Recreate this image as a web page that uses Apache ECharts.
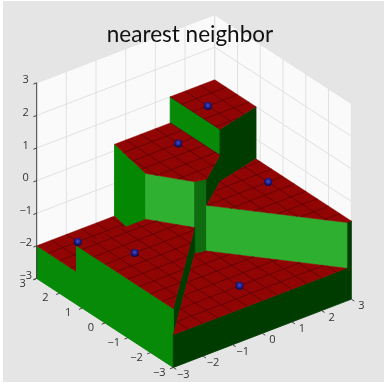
<!DOCTYPE html>
<html>
<head>
<meta charset="utf-8">
<style>
html,body{margin:0;padding:0;background:#fff;}
#main{width:384px;height:383px;}
</style>
<script src="https://cdn.jsdelivr.net/npm/echarts@6/dist/echarts.min.js"></script>
</head>
<body>
<div id="main"></div>
<script>
// sample points and their values
var siteX=[-2,-2,1,2,2.5,0];
var siteY=[2.5,0,2,2,0,-2];
var siteZ=[-2,-1.2,0.2,1,-0.6,-2];
var xTicks=[-3,-2,-1,0,1,2,3];
var yTicks=[-3,-2,-1,0,1,2,3];
var zTicks=[-3,-2,-1,0,1,2,3];
var tickText=['\u22123','\u22122','\u22121','0','1','2','3'];
var meshLines=[-2.5,-2,-1.5,-1,-0.5,0,0.5,1,1.5,2,2.5];
var lo=-3,hi=3;

// matlab default view
var az=-37.5*Math.PI/180,el=30*Math.PI/180;
var scale=37.4,zScale=32.6,cx=194,cy=191;
var viewDir=[Math.sin(az),-Math.cos(az)];   //horizontal direction towards viewer

function project(x,y,z) {
    return [cx+scale*(x*Math.cos(az)+y*Math.sin(az)),
        cy-zScale*z-scale*Math.sin(el)*(-x*Math.sin(az)+y*Math.cos(az))];
}

// voronoi cell of site i: clip the square by each bisector
function cellOf(i) {
    var poly=[[lo,lo],[hi,lo],[hi,hi],[lo,hi]];
    for (var j=0;j<siteX.length;j++){
        if (j==i) continue;
        var nx=siteX[j]-siteX[i],ny=siteY[j]-siteY[i];
        var mx=(siteX[j]+siteX[i])/2,my=(siteY[j]+siteY[i])/2;
        var out=[];
        for (var k=0;k<poly.length;k++){
            var p=poly[k],q=poly[(k+1)%poly.length];
            var dp=(p[0]-mx)*nx+(p[1]-my)*ny,dq=(q[0]-mx)*nx+(q[1]-my)*ny;
            if (dp<=0) out.push(p);
            if ((dp<0&&dq>0)||(dp>0&&dq<0)){
                var t=dp/(dp-dq);
                out.push([p[0]+t*(q[0]-p[0]),p[1]+t*(q[1]-p[1])]);
            }
        }
        poly=out;
    }
    return poly;
}

// part of the line through a with direction d inside a convex ccw polygon
function clipLine(poly,a,d) {
    var t0=-100,t1=100;
    for (var k=0;k<poly.length;k++){
        var p=poly[k],q=poly[(k+1)%poly.length];
        var nx=q[1]-p[1],ny=p[0]-q[0];
        var den=nx*d[0]+ny*d[1];
        var num=nx*(p[0]-a[0])+ny*(p[1]-a[1]);
        if (Math.abs(den)<1e-9){
            if (num<0) return null;
        }else if (den>0){
            t1=Math.min(t1,num/den);
        }else {
            t0=Math.max(t0,num/den);
        }
    }
    if (t0>=t1) return null;
    return [[a[0]+t0*d[0],a[1]+t0*d[1]],[a[0]+t1*d[0],a[1]+t1*d[1]]];
}

// height just outside an edge: the neighbour cell or the floor
function outsideZ(x,y) {
    if (x<lo||x>hi||y<lo||y>hi) return lo;
    var best=0,bestD=1e9;
    for (var j=0;j<siteX.length;j++){
        var d=(x-siteX[j])*(x-siteX[j])+(y-siteY[j])*(y-siteY[j]);
        if (d<bestD){bestD=d;best=j;}
    }
    return siteZ[best];
}

function wallColor(nx,ny) {
    var len=Math.sqrt(nx*nx+ny*ny);
    var g=-73-(nx*211+ny*133)/len;
    g=Math.round(Math.max(60,g));
    if (nx<0&&Math.abs(nx)>Math.abs(ny)) g=Math.max(g,136);   //facing -x side
    var rb=Math.round(Math.max(0,(g-132)*1.1));
    if (Math.abs(ny)>Math.abs(nx)&&g>80&&g<125) rb=15;        //the nearly -y wall is a bit greyer
    return 'rgb('+rb+','+g+','+rb+')';
}

// painter order: far sites first
var order=siteX.map(function (v,i) {return i;});
order.sort(function (a,b) {
    return (siteX[a]*viewDir[0]+siteY[a]*viewDir[1])-(siteX[b]*viewDir[0]+siteY[b]*viewDir[1]);
});

var faces=[];
order.forEach(function (i) {
    var poly=cellOf(i),z=siteZ[i];
    for (var k=0;k<poly.length;k++){
        var p=poly[k],q=poly[(k+1)%poly.length];
        var nx=q[1]-p[1],ny=p[0]-q[0];
        if (nx*viewDir[0]+ny*viewDir[1]<=0) continue;
        var len=Math.sqrt(nx*nx+ny*ny);
        var zb=outsideZ((p[0]+q[0])/2+nx/len*0.001,(p[1]+q[1])/2+ny/len*0.001);
        if (zb>=z) continue;
        faces.push({kind:'poly',color:wallColor(nx,ny),seam:0.9,
            pts:[[p[0],p[1],z],[q[0],q[1],z],[q[0],q[1],zb],[p[0],p[1],zb]]});
    }
    faces.push({kind:'poly',color:'#910505',pts:poly.map(function (p) {return [p[0],p[1],z];})});
    meshLines.forEach(function (m) {
        var a=clipLine(poly,[m,0],[0,1]),b=clipLine(poly,[0,m],[1,0]);
        [a,b].forEach(function (s) {
            if (s) faces.push({kind:'line',color:'#5e0303',pts:[[s[0][0],s[0][1],z],[s[1][0],s[1][1],z]]});
        });
    });
});

// back panes and their grid
var paneFaces=[
    {kind:'poly',color:'#fafafa',pts:[[lo,hi,lo],[hi,hi,lo],[hi,hi,hi],[lo,hi,hi]]},
    {kind:'poly',color:'#fafafa',pts:[[hi,lo,lo],[hi,hi,lo],[hi,hi,hi],[hi,lo,hi]]}
];
xTicks.forEach(function (v) {
    paneFaces.push({kind:'line',color:'#e1e1e1',width:1,pts:[[v,hi,lo],[v,hi,hi]]});
});
yTicks.forEach(function (v) {
    paneFaces.push({kind:'line',color:'#e1e1e1',width:1,pts:[[hi,v,lo],[hi,v,hi]]});
});
zTicks.forEach(function (v) {
    paneFaces.push({kind:'line',color:'#e1e1e1',width:1,pts:[[lo,hi,v],[hi,hi,v]]});
    paneFaces.push({kind:'line',color:'#e1e1e1',width:1,pts:[[hi,lo,v],[hi,hi,v]]});
});

// axis ticks
var axisFaces=[{kind:'line',color:'#404040',width:1,pts:[[lo,hi,lo],[lo,hi,hi]]}];
xTicks.forEach(function (v) {
    axisFaces.push({kind:'line',color:'#404040',width:1,pts:[[v,lo,lo],[v,lo-0.13,lo]]});
});
yTicks.forEach(function (v) {
    axisFaces.push({kind:'line',color:'#404040',width:1,pts:[[lo,v,lo],[lo-0.11,v,lo]]});
});
zTicks.forEach(function (v) {
    axisFaces.push({kind:'line',color:'#404040',width:1,pts:[[lo,hi,v],[lo-0.11,hi,v]]});
});

var allFaces=paneFaces.concat(faces).concat(axisFaces);

var labelRows=[];
xTicks.forEach(function (v,i) {
    var p=project(v,lo,lo);
    labelRows.push([p[0]+10,p[1]+7,tickText[i]]);
});
yTicks.forEach(function (v,i) {
    var p=project(lo,v,lo);
    labelRows.push([p[0]-14,p[1]+5,tickText[i]]);
});
zTicks.forEach(function (v,i) {
    var p=project(lo,hi,v);
    labelRows.push([p[0]-11,p[1]-2.5,tickText[i]]);
});

function drawFace(params,api) {
    var f=allFaces[api.value(0)];
    var pts=f.pts.map(function (p) {
        var s=project(p[0],p[1],p[2]);
        return api.coord([s[0],s[1]]);
    });
    if (f.kind=='poly'){
        return {type:'polygon',shape:{points:pts},style:{fill:f.color,stroke:f.color,lineWidth:f.seam||0.4}};
    }
    return {type:'polyline',shape:{points:pts},style:{fill:null,stroke:f.color,lineWidth:f.width||0.8}};
}

function drawSite(params,api) {
    var s=project(api.value(0),api.value(1),api.value(2));
    var c=api.coord([s[0],s[1]]);
    return {type:'circle',shape:{cx:c[0],cy:c[1],r:4},style:{
        fill:new echarts.graphic.RadialGradient(0.5,0.42,0.6,[
            {offset:0,color:'#4a4ab8'},
            {offset:0.55,color:'#1c1c8c'},
            {offset:1,color:'#060630'}
        ])
    }};
}

function drawLabel(params,api) {
    var c=api.coord([api.value(0),api.value(1)]);
    return {type:'text',style:{x:c[0],y:c[1],text:String(api.value(2)),fill:'#333',
        font:'11px "Open Sans"',align:'center',verticalAlign:'middle'}};
}

var myChart=echarts.init(document.getElementById('main'),null,{renderer:'canvas'});
myChart.setOption({
    animation:false,
    backgroundColor:'#fff',
    title:{text:'nearest neighbor',left:190,top:18,textAlign:'center',
        textStyle:{fontFamily:'Lato',fontWeight:'normal',fontSize:22.5,color:'#111'}},
    grid:{show:true,backgroundColor:'#e5e5e5',borderWidth:0,left:3,right:0,top:1,bottom:1},
    xAxis:{type:'value',min:3,max:384,show:false},
    yAxis:{type:'value',min:1,max:382,inverse:true,show:false},
    series:[
        {type:'custom',coordinateSystem:'cartesian2d',silent:true,clip:false,
            renderItem:drawFace,data:allFaces.map(function (f,i) {return [i];}),encode:{x:0,y:0}},
        {type:'custom',coordinateSystem:'cartesian2d',silent:true,clip:false,
            renderItem:drawSite,data:siteX.map(function (v,i) {return [v,siteY[i],siteZ[i]];}),encode:{x:0,y:1},z:3},
        {type:'custom',coordinateSystem:'cartesian2d',silent:true,clip:false,
            renderItem:drawLabel,data:labelRows,encode:{x:0,y:1},z:4}
    ]
});
myChart.setOption({title:{left:185}});
</script>
</body>
</html>
